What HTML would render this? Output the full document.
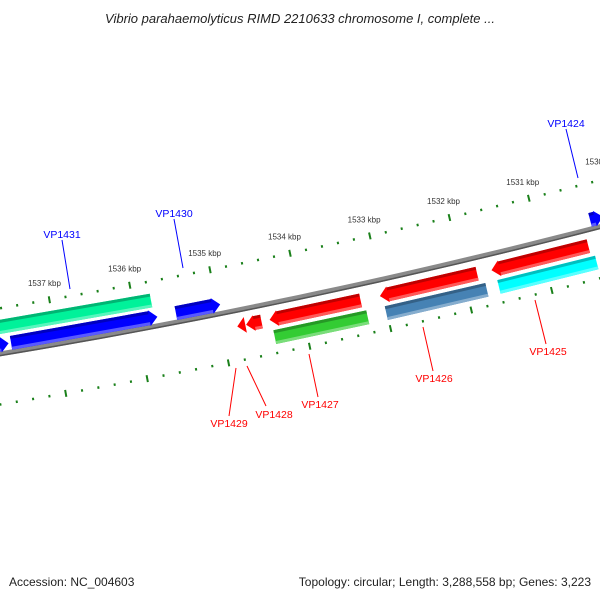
<!DOCTYPE html>
<html><head><meta charset="utf-8"><style>
body{margin:0;background:#fff}
svg{display:block}
text{font-family:"Liberation Sans","DejaVu Sans",sans-serif}
</style></head><body>
<svg id="c" width="600" height="600" viewBox="0 0 600 600" xmlns="http://www.w3.org/2000/svg">
<text x="300" y="23" text-anchor="middle" font-size="13" font-style="italic" fill="#222">Vibrio parahaemolyticus RIMD 2210633 chromosome I, complete ...</text>
<text x="9" y="586" font-size="12" fill="#222">Accession: NC_004603</text>
<text x="591" y="586" text-anchor="end" font-size="12" fill="#222">Topology: circular; Length: 3,288,558 bp; Genes: 3,223</text>
<g id="g"></g>
</svg>
<script>
const featNames=["VPleft","VP1431","VP1430","VP1429","VP1428","VP1427","VPg","VP1426","VPs","VP1425","VPc","VP1424","VPt"];
const featStart=[1537.9,1537.55,1535.51,1534.81,1534.70,1534.41,1534.39,1533.04,1533.01,1531.65,1531.61,1530.34,1538.3];
const featEnd=[1537.58,1535.74,1534.96,1534.71,1534.51,1533.28,1533.24,1531.83,1531.76,1530.44,1530.39,1530.18,1535.78];
const featLane=[1,1,1,2,2,2,3,2,3,2,3,1,0];
const featArrow=[1,1,1,-1,-1,-1,0,-1,0,-1,0,1,0];
const featColor=["#0000ff","#0000ff","#0000ff","#ff0000","#ff0000","#ff0000","#33cc33","#ff0000","#4682b4","#ff0000","#00ffff","#0000ff","#00f29a"];
const majorTicks=[1538,1537,1536,1535,1534,1533,1532,1531,1530,1529];
const tickLabels=["1538 kbp","1537 kbp","1536 kbp","1535 kbp","1534 kbp","1533 kbp","1532 kbp","1531 kbp","1530 kbp","1529 kbp"];
const calloutNames=["VP1431","VP1430","VP1424","VP1429","VP1428","VP1427","VP1426","VP1425"];
const calloutColor=["#0000ff","#0000ff","#0000ff","#ff0000","#ff0000","#ff0000","#ff0000","#ff0000"];

const CX=-1140,CY=-6501,R0=6949;
const laneR=[R0-26,R0-9,R0+16,R0+34];
function ang(k){return (80.08+(k-1537)*0.678)*Math.PI/180;}
function pt(k,r){const a=ang(k);return [CX+r*Math.cos(a),CY+r*Math.sin(a)];}
const NS="http://www.w3.org/2000/svg";
const g=document.getElementById('g');
function mk(t,attrs){const e=document.createElementNS(NS,t);for(const k in attrs)e.setAttribute(k,attrs[k]);g.appendChild(e);return e;}
function P(a){return a.map(p=>p[0].toFixed(1)+","+p[1].toFixed(1)).join(" ");}

// backbone
{const pts=[];for(let k=1539;k>=1529;k-=0.25)pts.push(pt(k,R0));
const e=mk('polyline',{points:P(pts),fill:'none',stroke:'#8a8a8a','stroke-width':5});


const e2=mk('polyline',{points:P(pts.map((p,i)=>pt(1539-i*0.25,R0+1.8))),fill:'none',stroke:'#555','stroke-width':1.5});

}

// rulers
[[R0-45,-1],[R0+50,1]].forEach(([rr,side],ri)=>{
 for(let i=0;i<=60;i++){const k=1539-i*0.2;const maj=Math.abs(k-Math.round(k))<0.01;
  const len=maj?7:2.5;const a=pt(k,rr-len/2),b=pt(k,rr+len/2);
  const t=mk('line',{x1:a[0],y1:a[1],x2:b[0],y2:b[1],stroke:'#1a801a','stroke-width':2});
  
  }
 if(ri===0){majorTicks.forEach((k,i)=>{const p=pt(k,rr-17);
  const t=mk('text',{x:p[0]-2,y:p[1]+3,'text-anchor':'middle','font-size':'8','fill':'#333'});
  t.textContent=tickLabels[i];
  
  });}
});

// features
function band(s,e,r1,r2){return [pt(s,r1),pt(e,r1),pt(e,r2),pt(s,r2)];}
function shade(c,f){const n=parseInt(c.slice(1),16);let r=n>>16,gg=(n>>8)&255,b=n&255;
 if(f<0){r*=1+f;gg*=1+f;b*=1+f;}else{r+=(255-r)*f;gg+=(255-gg)*f;b+=(255-b)*f;}
 return `rgb(${r|0},${gg|0},${b|0})`;}
featNames.forEach((nm,i)=>{
 const r=laneR[featLane[i]],h=7;let s=featStart[i],e=featEnd[i];const dir=featArrow[i];const ah=0.1;
 let poly;
 if(dir===1){const be=e+ah;poly=[pt(s,r-h),pt(be,r-h),pt(be,r-h-1),pt(e,r),pt(be,r+h+1),pt(be,r+h),pt(s,r+h)];}
 else if(dir===-1){const bs=s-ah;poly=[pt(bs,r-h),pt(e,r-h),pt(e,r+h),pt(bs,r+h),pt(bs,r+h+1),pt(s,r),pt(bs,r-h-1)];}
 else poly=band(s,e,r-h,r+h);
 const el=mk('polygon',{points:P(poly),fill:featColor[i]});
 
 
 const bs2=dir===-1?s-ah:s,be2=dir===1?e+ah:e;
 const top=mk('polygon',{points:P(band(bs2,be2,r-h,r-h+3)),fill:shade(featColor[i],-0.25)});
 
 
 const bot=mk('polygon',{points:P(band(bs2,be2,r+h-3,r+h)),fill:shade(featColor[i],0.35)});
 
 
});

// callouts
const calloutText=[[62,238],[174,217],[566,127],[229,427],[274,418],[320,408],[434,382],[548,355]];
const calloutLine=[[62,240,70,289],[174,219,183,268],[566,129,578,178],[229,416,236,368],[266,406,247,366],[318,397,309,354],[433,371,423,327],[546,344,535,300]];
calloutNames.forEach((n,i)=>{
 const l=calloutLine[i];
 const ln=mk('line',{x1:l[0],y1:l[1],x2:l[2],y2:l[3],stroke:calloutColor[i],'stroke-width':1});
 
 
 const t=mk('text',{x:calloutText[i][0],y:calloutText[i][1],'text-anchor':'middle','font-size':'10.5',fill:calloutColor[i]});
 t.textContent=n;
 
 
});
</script>
</body></html>
